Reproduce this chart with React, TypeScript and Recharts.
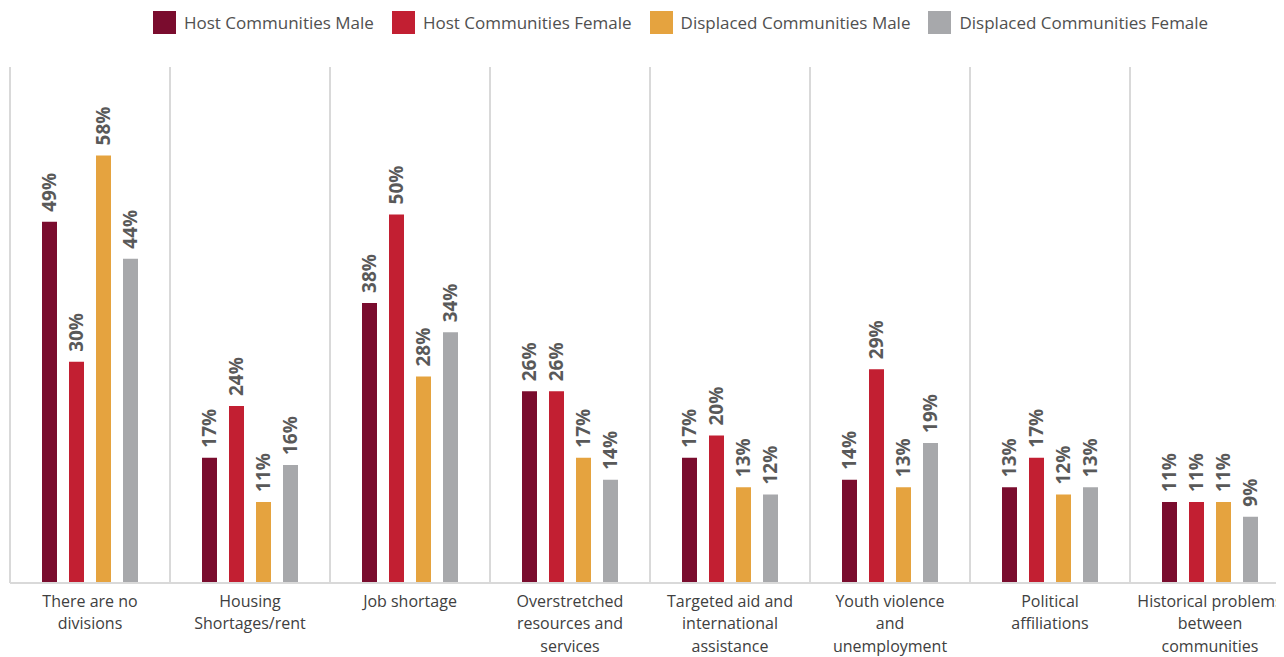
import React from 'react';
import { Bar, BarChart, CartesianGrid, LabelList, XAxis, YAxis } from 'recharts';

const CATEGORIES = [
  'There are no\ndivisions',
  'Housing\nShortages/rent',
  'Job shortage',
  'Overstretched\nresources and\nservices',
  'Targeted aid and\ninternational\nassistance',
  'Youth violence\nand\nunemployment',
  'Political\naffiliations',
  'Historical problems\nbetween\ncommunities',
];

const HOST_MALE = [49, 17, 38, 26, 17, 14, 13, 11];
const HOST_FEMALE = [30, 24, 50, 26, 20, 29, 17, 11];
const DISPLACED_MALE = [58, 11, 28, 17, 13, 13, 12, 11];
const DISPLACED_FEMALE = [44, 16, 34, 14, 12, 19, 13, 9];

const SERIES = [
  { key: 'hostMale', name: 'Host Communities Male', color: '#7a0c2e', values: HOST_MALE },
  { key: 'hostFemale', name: 'Host Communities Female', color: '#c21f32', values: HOST_FEMALE },
  { key: 'dispMale', name: 'Displaced Communities Male', color: '#e5a33f', values: DISPLACED_MALE },
  { key: 'dispFemale', name: 'Displaced Communities Female', color: '#a7a8ab', values: DISPLACED_FEMALE },
];

const data = CATEGORIES.map((label, i) => {
  const row: Record<string, string | number> = { label };
  SERIES.forEach((s) => {
    row[s.key] = s.values[i];
  });
  return row;
});

const FONT = '"Open Sans", sans-serif';

function CategoryTick({ x, y, payload }: any) {
  const lines = String(payload.value).split('\n');
  return (
    <text x={x} y={y + 16} textAnchor="middle" fill="#404040" fontSize={16} fontFamily={FONT}>
      {lines.map((line, i) => (
        <tspan key={i} x={x} dy={i === 0 ? 0 : 22.3}>
          {line}
        </tspan>
      ))}
    </text>
  );
}

function ValueLabel({ x, y, width, value }: any) {
  const cx = x + width / 2;
  const ty = y - 10;
  return (
    <text
      x={cx}
      y={ty}
      transform={`rotate(-90, ${cx}, ${ty})`}
      textAnchor="start"
      dominantBaseline="central"
      fill="#595959"
      fontSize={19}
      fontWeight="bold"
      fontFamily={FONT}
    >
      {`${value}%`}
    </text>
  );
}

export default function App() {
  return (
    <div style={{ position: 'relative', width: 1276, height: 649, overflow: 'hidden', fontFamily: FONT }}>
      <div
        style={{
          position: 'absolute',
          top: 3,
          left: 145,
          display: 'flex',
          alignItems: 'center',
          fontSize: 17,
          color: '#505050',
          whiteSpace: 'nowrap',
        }}
      >
        {SERIES.map((s) => (
          <div key={s.key} style={{ display: 'flex', alignItems: 'center', marginRight: 18 }}>
            <span style={{ width: 23, height: 23, background: s.color, marginRight: 8 }} />
            <span>{s.name}</span>
          </div>
        ))}
      </div>
      <BarChart
        width={1290}
        height={649}
        data={data}
        margin={{ top: 59, right: 8, bottom: 4, left: 2 }}
        barSize={15}
        barGap={12}
      >
        <CartesianGrid
          horizontal={false}
          stroke="#d9d9d9"
          strokeWidth={2}
          verticalCoordinatesGenerator={({ offset }: any) =>
            Array.from({ length: CATEGORIES.length + 1 }, (_, i) => offset.left + (i * offset.width) / CATEGORIES.length)
          }
        />
        <XAxis
          dataKey="label"
          interval={0}
          tickLine={false}
          axisLine={{ stroke: '#d9d9d9', strokeWidth: 2 }}
          height={70}
          tick={<CategoryTick />}
        />
        <YAxis hide domain={[0, 70]} />
        {SERIES.map((s) => (
          <Bar key={s.key} dataKey={s.key} name={s.name} fill={s.color} isAnimationActive={false}>
            <LabelList dataKey={s.key} content={<ValueLabel />} />
          </Bar>
        ))}
      </BarChart>
    </div>
  );
}
